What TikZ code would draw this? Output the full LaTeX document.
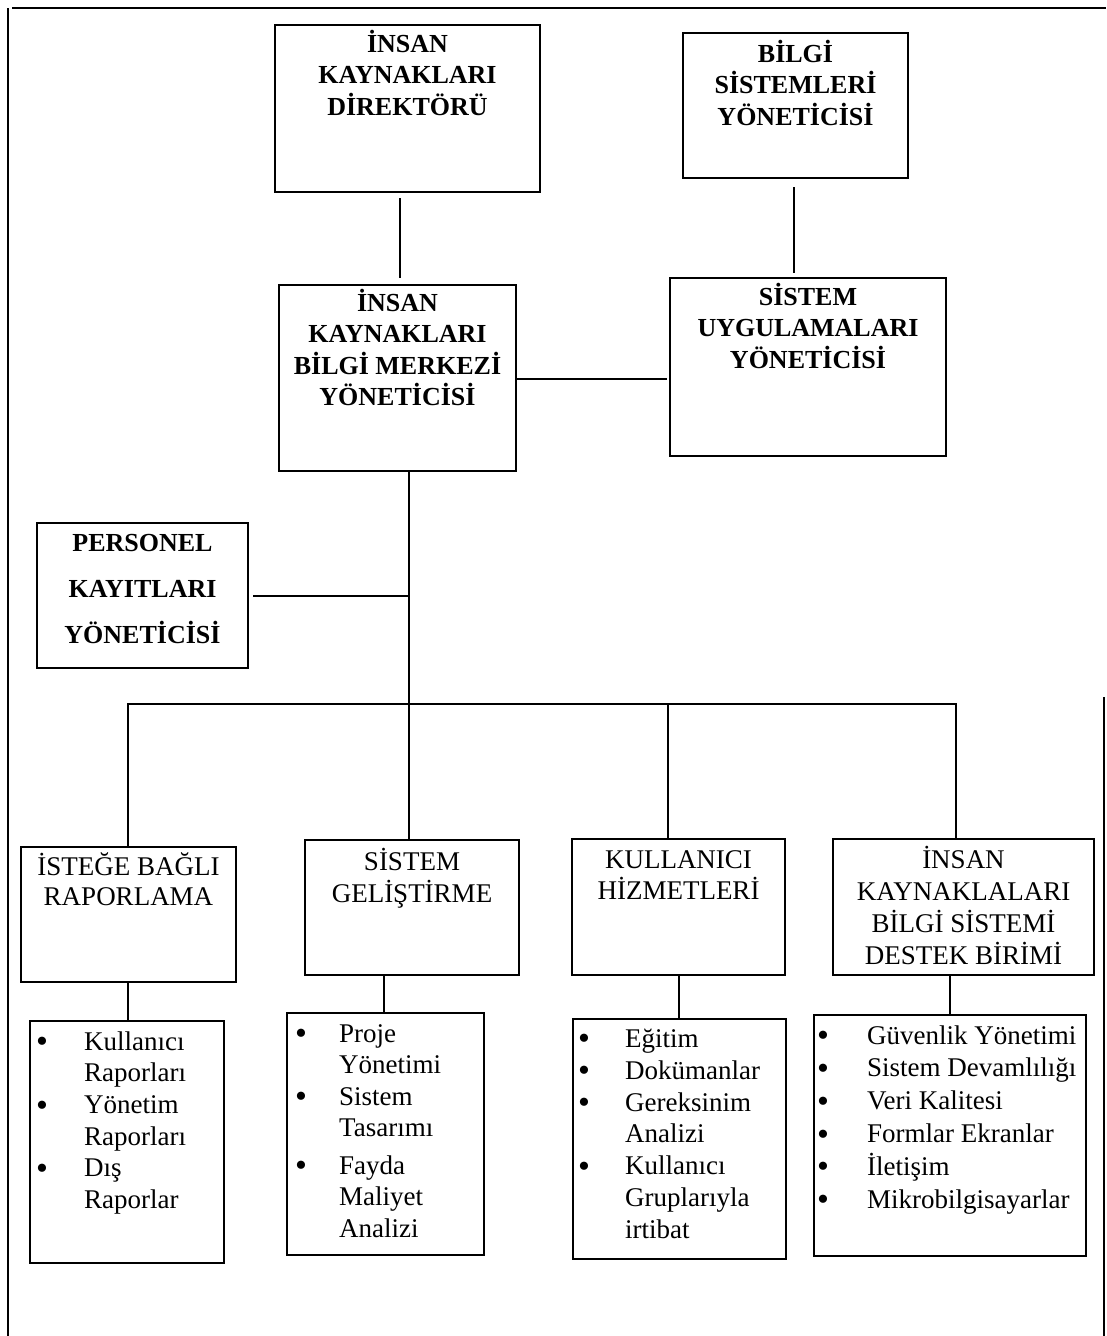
\documentclass[tikz,border=0pt]{standalone}
\usepackage{fontspec}
\setmainfont{Liberation Serif}
% strut that fixes the top of a title to one em above its first baseline
\newcommand{\firstln}{\rule{0pt}{1em}}
% list bullet, a little larger than the text bullet
\newcommand{\lbul}{\raisebox{-2.5pt}{\fontsize{34}{34}\selectfont •}}
\begin{document}
\begin{tikzpicture}[x=1pt,y=-1pt,
  box/.style={draw, line width=1.6pt, inner sep=0pt, outer sep=0pt, anchor=north west},
  head/.style={inner sep=0pt, anchor=north, align=center, font=\bfseries\fontsize{26}{#1}\selectfont},
  head/.default=31.5,
  unit/.style={inner sep=0pt, anchor=north, align=center, font=\fontsize{27}{#1}\selectfont},
  unit/.default=32,
  items/.style={inner sep=0pt, anchor=north west, font=\fontsize{27}{#1}\selectfont},
  link/.style={line width=1.5pt},
  frame/.style={line width=2pt}]
\useasboundingbox (0,0) rectangle (1106,1336);

% page frame
\draw[frame] (12,8) -- (1106,8);
\draw[frame] (8,8) -- (8,1336);
\draw[frame] (1104,697) -- (1104,1336);

% management level
\node[box, minimum width=265pt, minimum height=167pt] (dir) at (275,25) {};
\node[head] (dirT) at ([yshift=-1pt]dir.north) {\firstln İNSAN\\KAYNAKLARI\\DİREKTÖRÜ};

\node[box, minimum width=225pt, minimum height=145pt] (bsy) at (683,33) {};
\node[head] (bsyT) at ([yshift=-3pt]bsy.north) {\firstln BİLGİ\\SİSTEMLERİ\\YÖNETİCİSİ};

\node[box, minimum width=237pt, minimum height=186pt] (bmy) at (279,285) {};
\node[head] (bmyT) at ([yshift=0pt]bmy.north) {\firstln İNSAN\\KAYNAKLARI\\BİLGİ MERKEZİ\\YÖNETİCİSİ};

\node[box, minimum width=276pt, minimum height=178pt] (suy) at (670,278) {};
\node[head] (suyT) at ([yshift=-1pt]suy.north) {\firstln SİSTEM\\UYGULAMALARI\\YÖNETİCİSİ};

\node[box, minimum width=211pt, minimum height=145pt] (pky) at (37,523) {};
\node[head=46] (pkyT) at ([yshift=-2pt]pky.north) {\firstln PERSONEL\\KAYITLARI\\YÖNETİCİSİ};

% units
\node[box, minimum width=215pt, minimum height=135pt] (ibr) at (21,847) {};
\node[unit=30] (ibrT) at ([yshift=-1pt]ibr.north) {\firstln İSTEĞE BAĞLI\\RAPORLAMA};

\node[box, minimum width=214pt, minimum height=135pt] (sgl) at (305,840) {};
\node[unit=32] (sglT) at ([yshift=-3pt]sgl.north) {\firstln SİSTEM\\GELİŞTİRME};

\node[box, minimum width=213pt, minimum height=136pt] (khz) at (572,839) {};
\node[unit=31] (khzT) at ([yshift=-2pt]khz.north) {\firstln KULLANICI\\HİZMETLERİ};

\node[box, minimum width=261pt, minimum height=136pt] (dst) at (833,839) {};
\node[unit=32] (dstT) at ([yshift=-2pt]dst.north) {\firstln İNSAN\\KAYNAKLALARI\\BİLGİ SİSTEMİ\\DESTEK BİRİMİ};

% task lists
\node[box, minimum width=194pt, minimum height=242pt] (lr) at (30,1021) {};
\node[items=31.6] (lrT) at (36,1028) {\begin{tabular}{@{}p{48pt}@{}l@{}}
\lbul& Kullanıcı\\ & Raporları\\ \lbul& Yönetim\\ & Raporları\\ \lbul& Dış\\ & Raporlar\end{tabular}};

\node[box, minimum width=197pt, minimum height=242pt] (ls) at (287,1013) {};
\node[items=31.5] (lsT) at (295,1020) {\begin{tabular}{@{}p{44pt}@{}l@{}}
\lbul& Proje\\ & Yönetimi\\ \lbul& Sistem\\ & Tasarımı\\[6pt] \lbul& Fayda\\ & Maliyet\\ & Analizi\end{tabular}};

\node[box, minimum width=213pt, minimum height=240pt] (lk) at (573,1019) {};
\node[items=31.8] (lkT) at (578,1025) {\begin{tabular}{@{}p{47pt}@{}l@{}}
\lbul& Eğitim\\ \lbul& Dokümanlar\\ \lbul& Gereksinim\\ & Analizi\\ \lbul& Kullanıcı\\ & Gruplarıyla\\ & irtibat\end{tabular}};

\node[box, minimum width=272pt, minimum height=241pt] (ld) at (814,1015) {};
\node[items=32.8] (ldT) at (817,1021) {\begin{tabular}{@{}p{50pt}@{}l@{}}
\lbul& Güvenlik Yönetimi\\ \lbul& Sistem Devamlılığı\\ \lbul& Veri Kalitesi\\ \lbul& Formlar Ekranlar\\ \lbul& İletişim\\ \lbul& Mikrobilgisayarlar\end{tabular}};

% connector positions
\coordinate (xa) at (400,0);
\coordinate (xc) at (794,0);
\coordinate (xt) at (409,0);
\coordinate (xf) at (128,0);
\coordinate (xh) at (668,0);
\coordinate (xi) at (956,0);
\coordinate (xg2) at (384,0);
\coordinate (xh2) at (679,0);
\coordinate (xi2) at (950,0);
\coordinate (ym) at (0,379);
\coordinate (yp) at (0,596);
\coordinate (ybus) at (0,704);

% connectors
\draw[link, shorten <=6pt, shorten >=7pt] (dir.south -| xa) -- (bmy.north -| xa);
\draw[link, shorten <=9pt, shorten >=5pt] (bsy.south -| xc) -- (suy.north -| xc);
\draw[link, shorten >=3pt] (bmy.east |- ym) -- (suy.west |- ym);
\draw[link] (bmy.south -| xt) -- (sgl.north -| xt);
\draw[link, shorten <=5pt] (pky.east |- yp) -- (xt |- yp);
\draw[link] (ibr.north -| xf) -- (xf |- ybus) -- (xi |- ybus) -- (dst.north -| xi);
\draw[link] (xh |- ybus) -- (khz.north -| xh);
\draw[link] (ibr.south -| xf) -- (lr.north -| xf);
\draw[link] (sgl.south -| xg2) -- (ls.north -| xg2);
\draw[link] (khz.south -| xh2) -- (lk.north -| xh2);
\draw[link] (dst.south -| xi2) -- (ld.north -| xi2);
\end{tikzpicture}
\end{document}
